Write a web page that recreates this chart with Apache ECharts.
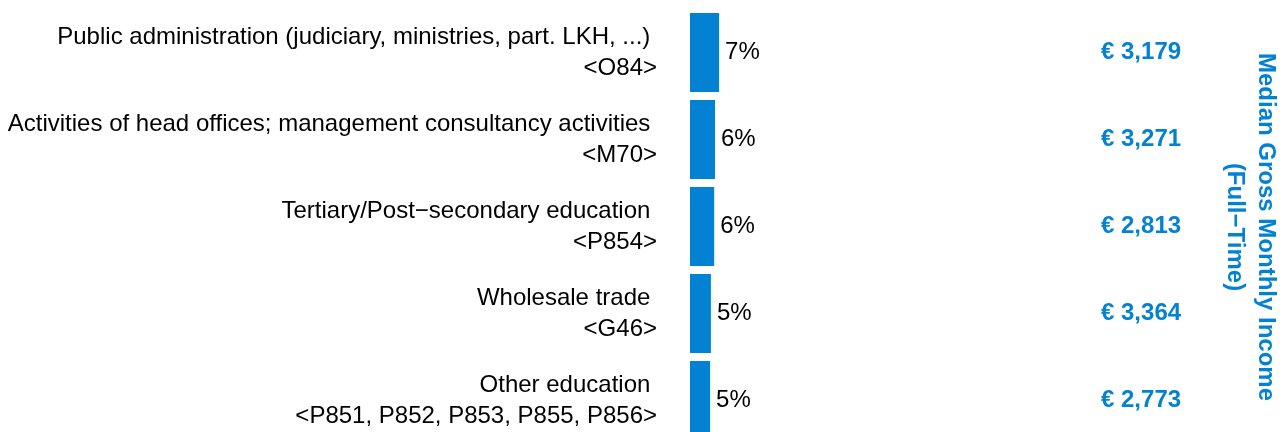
<!DOCTYPE html>
<html>
<head>
<meta charset="utf-8">
<script src="https://cdn.jsdelivr.net/npm/echarts@6/dist/echarts.min.js"></script>
<style>html,body{margin:0;padding:0;background:#fff;}#c{width:1284px;height:432px;}</style>
</head>
<body>
<div id="c"></div>
<script>
const categoryNames = [
  "Public administration (judiciary, ministries, part. LKH, ...) ",
  "Activities of head offices; management consultancy activities ",
  "Tertiary/Post\u2212secondary education ",
  "Wholesale trade ",
  "Other education "
];
const categoryCodes = [
  "<O84>",
  "<M70>",
  "<P854>",
  "<G46>",
  "<P851, P852, P853, P855, P856>"
];
const sharePercent = [7.1, 6.1, 5.9, 5.1, 4.9];
const medianIncome = ["\u20AC 3,179", "\u20AC 3,271", "\u20AC 2,813", "\u20AC 3,364", "\u20AC 2,773"];
const incomeTitle = "Median Gross Monthly Income\n(Full\u2212Time)";

const BLUE = "#0382D3";
const FONT = "Liberation Sans, Arial, sans-serif";
const labels = categoryNames.map((n, i) => n + "\n" + categoryCodes[i]);

const chart = echarts.init(document.getElementById('c'), null, {renderer: 'canvas'});
chart.setOption({
  animation: false,
  backgroundColor: '#fff',
  grid: {left: 690, top: 9, width: 410, height: 435, containLabel: false, outerBoundsMode: 'none'},
  xAxis: {
    type: 'value', min: 0, max: 100, show: false
  },
  yAxis: [{
    type: 'category', data: labels, inverse: true, position: 'left',
    axisLine: {show: false}, axisTick: {show: false}, splitLine: {show: false},
    axisLabel: {
      margin: 33, fontSize: 24, lineHeight: 31, color: '#000', fontFamily: FONT, align: 'right',
      padding: [6, 0, 0, 0]
    }
  }, {
    type: 'category', data: medianIncome, inverse: true, position: 'right',
    axisLine: {show: false}, axisTick: {show: false}, splitLine: {show: false},
    axisLabel: {
      margin: 1, fontSize: 24, fontWeight: 'bold', color: BLUE, fontFamily: FONT, align: 'left'
    }
  }],
  series: [{
    type: 'bar', data: sharePercent, barWidth: 79, yAxisIndex: 0,
    itemStyle: {color: BLUE},
    label: {
      show: true, position: 'right', distance: 6, fontSize: 24, color: '#000', fontFamily: FONT,
      formatter: p => Math.round(p.value) + '%'
    }
  }],
  graphic: [{
    type: 'text', x: 1250, y: 227, rotation: -Math.PI / 2,
    style: {
      text: incomeTitle, fontSize: 24, fontWeight: 'bold', fill: BLUE, fontFamily: FONT,
      align: 'center', verticalAlign: 'middle', lineHeight: 31
    }
  }]
});
</script>
</body>
</html>
